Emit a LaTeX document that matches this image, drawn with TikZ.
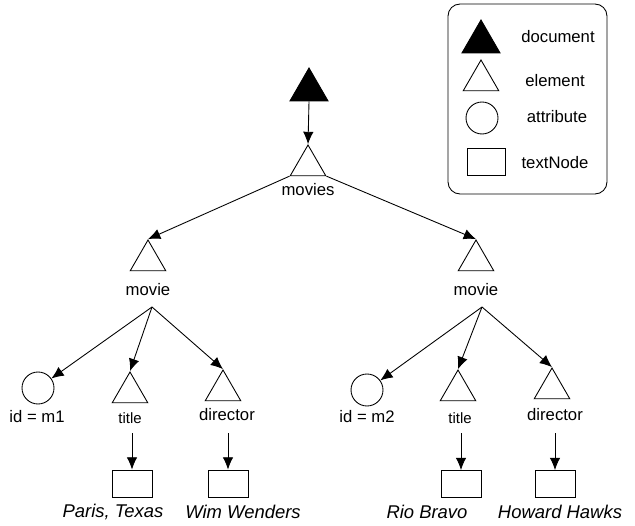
\documentclass[tikz,border=0pt]{standalone}
\usepackage{fontspec}
\setmainfont{Liberation Sans}
\usetikzlibrary{shapes.geometric,arrows.meta}

\tikzset{
  elem/.style={draw, regular polygon, regular polygon sides=3, minimum size=0.82cm, inner sep=0pt},
  docu/.style={elem, fill=black, minimum size=0.88cm},
  attr/.style={draw, circle, minimum size=0.64cm, inner sep=0pt},
  txtnode/.style={draw, rectangle, minimum width=0.8cm, minimum height=0.54cm, inner sep=0pt},
  lbl/.style={font=\fontsize{9.5}{11}\selectfont, inner sep=0pt},
  small/.style={font=\fontsize{8.5}{10}\selectfont, inner sep=0pt},
  val/.style={font=\fontsize{10.5}{12}\selectfont\itshape, inner sep=0pt},
  arr/.style={-{Latex[length=7pt,width=6pt]}},
}

\begin{document}
\begin{tikzpicture}[x=0.02cm, y=-0.02cm, line width=0.5pt]
        \useasboundingbox (0,0) rectangle (635,526);

        % legend
        \node[draw, rounded corners=0.24cm, minimum width=3.18cm, minimum height=3.8cm] (legend) at (527.5,99) {};
        \node[docu] (ldoc) at (481,42) {};
        \node[lbl] (ldoct) at (558,37) {document};
        \node[elem] (lelem) at (481,80.5) {};
        \node[lbl] (lelemt) at (555,81) {element};
        \node[attr] (lattr) at (482,118) {};
        \node[lbl] (lattrt) at (557,117) {attribute};
        \node[txtnode, minimum width=0.76cm] (ltxt) at (486,161.5) {};
        \node[lbl] (ltxtt) at (555,163) {textNode};

        % tree
        \node[docu] (doc) at (309,90) {};
        \node[elem] (movies) at (308,165.5) {};
        \node[lbl] (moviesl) at (308,190) {movies};

        \node[elem] (movie1) at (148,260.5) {};
        \node[lbl] (movie1l) at (148,290) {movie};
        \coordinate (fork1) at (152,307);
        \node[elem] (movie2) at (476,260.5) {};
        \node[lbl] (movie2l) at (476,290) {movie};
        \coordinate (fork2) at (482,307);

        \node[attr] (attr1) at (38,388) {};
        \node[lbl] (attr1l) at (37,417) {id = m1};
        \node[elem] (title1) at (130,392.5) {};
        \node[small] (title1l) at (130,418) {title};
        \node[elem] (dir1) at (223,390.5) {};
        \node[lbl] (dir1l) at (227,415) {director};
        \coordinate (t1) at (132,433);
        \coordinate (d1) at (228,433);
        \node[txtnode] (box1) at (132,483.5) {};
        \node[val] (box1l) at (113,512) {Paris, Texas};
        \node[txtnode] (box2) at (228,483.5) {};
        \node[val] (box2l) at (243,512) {Wim Wenders};

        \node[attr] (attr2) at (367,390) {};
        \node[lbl] (attr2l) at (367,417) {id = m2};
        \node[elem] (title2) at (458,390.5) {};
        \node[small] (title2l) at (460,418) {title};
        \node[elem] (dir2) at (552,388.5) {};
        \node[lbl] (dir2l) at (555,415) {director};
        \coordinate (t2) at (461,433);
        \coordinate (d2) at (555,433);
        \node[txtnode] (box3) at (461,484) {};
        \node[val] (box3l) at (427,512) {Rio Bravo};
        \node[txtnode] (box4) at (555,484) {};
        \node[val] (box4l) at (560,512) {Howard Hawks};

        \draw[arr] (doc.south) -- (movies.corner 1);
        \draw[arr] (movies.corner 2) -- (movie1.corner 1);
        \draw[arr] (movies.corner 3) -- (movie2.corner 1);

        \draw[arr] (fork1) -- (attr1);
        \draw[arr] (fork1) -- (title1.corner 1);
        \draw[arr] (fork1) -- (dir1.corner 1);
        \draw[arr] (t1) -- (box1.north);
        \draw[arr] (d1) -- (box2.north);

        \draw[arr] (fork2) -- (attr2);
        \draw[arr] (fork2) -- (title2.corner 1);
        \draw[arr] (fork2) -- (dir2.corner 1);
        \draw[arr] (t2) -- (box3.north);
        \draw[arr] (d2) -- (box4.north);

    \end{tikzpicture}
\end{document}
